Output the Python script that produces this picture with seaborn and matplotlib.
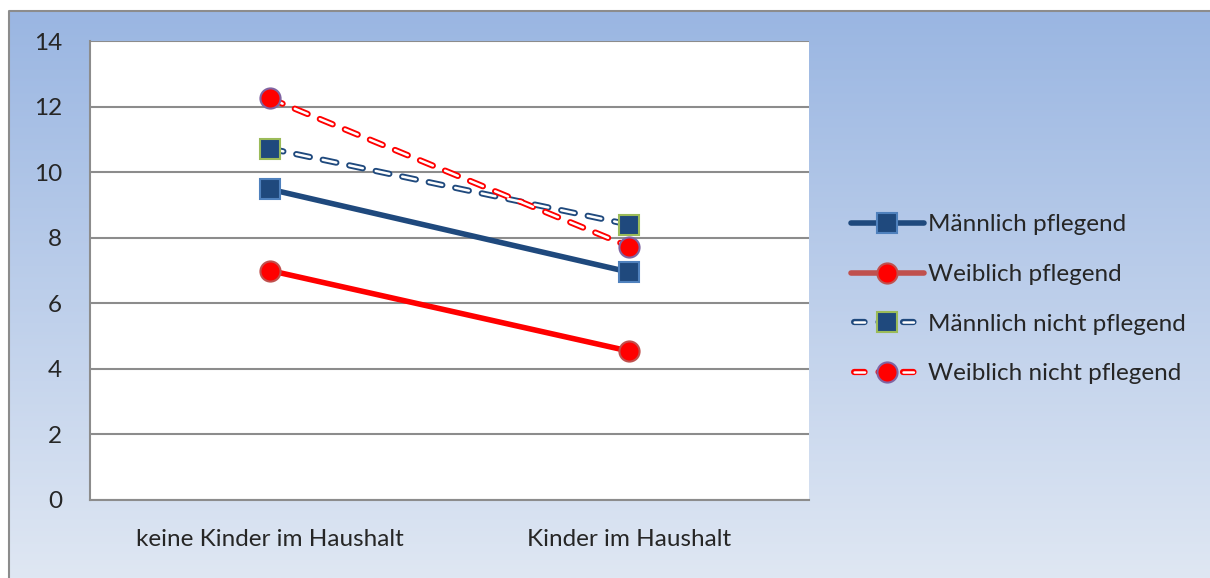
import matplotlib
matplotlib.use("Agg")
import matplotlib.pyplot as plt
from matplotlib.colors import LinearSegmentedColormap
from matplotlib.legend_handler import HandlerTuple
import numpy as np
import seaborn as sns

# --------------------------------------------------
# Data
# --------------------------------------------------
categories = ["keine Kinder im Haushalt", "Kinder im Haushalt"]
maennlich_pflegend = [9.48, 6.95]
weiblich_pflegend = [7.0, 4.54]
maennlich_nicht = [10.72, 8.4]
weiblich_nicht = [12.25, 7.73]
series_names = ["Männlich pflegend", "Weiblich pflegend",
                "Männlich nicht pflegend", "Weiblich nicht pflegend"]
y_ticks = [0, 2, 4, 6, 8, 10, 12, 14]

# --------------------------------------------------
# Style
# --------------------------------------------------
sns.set_style("white")
plt.rcParams["font.family"] = ["Lato", "DejaVu Sans"]
plt.rcParams["lines.scale_dashes"] = False

fig = plt.figure(figsize=(12.1, 5.78), dpi=100)

# gradient background with grey frame
bg = fig.add_axes([0, 0, 1, 1], zorder=-10)
cmap = LinearSegmentedColormap.from_list("bg", ["#dfe7f3", "#9ab6e2"])
grad = np.linspace(0, 1, 256).reshape(-1, 1)
bg.imshow(grad, cmap=cmap, aspect="auto", origin="lower",
          extent=[9 / 1210, 1.0, 0.0, 1 - 11 / 578])
bg.plot([9 / 1210, 9 / 1210, 1.0], [0.0, 1 - 11 / 578, 1 - 11 / 578],
        color="#8c8c8c", lw=1.5)
bg.set_xlim(0, 1)
bg.set_ylim(0, 1)
bg.axis("off")

ax = fig.add_axes([90 / 1210, 1 - 500 / 578, 719 / 1210, 459 / 578])
ax.set_facecolor("white")

x = [0, 1]
blue = "#1f497d"
red = "#ff0000"
msize = 14.5
dash = (10, 9.5)

# solid series
sns.lineplot(x=x, y=maennlich_pflegend, ax=ax, color=blue, lw=4,
             marker="s", markersize=msize, markerfacecolor=blue,
             markeredgecolor="#4f81bd", markeredgewidth=1.5, zorder=4)
sns.lineplot(x=x, y=weiblich_pflegend, ax=ax, color=red, lw=4,
             marker="o", markersize=msize, markerfacecolor=red,
             markeredgecolor="#c0504d", markeredgewidth=1.5, zorder=4)

# hollow dashed series: coloured outline dash + white core dash
sns.lineplot(x=x, y=maennlich_nicht, ax=ax, color=blue, lw=4.5, zorder=5)
sns.lineplot(x=x, y=weiblich_nicht, ax=ax, color=red, lw=4.5, zorder=5)
sns.lineplot(x=x, y=maennlich_nicht, ax=ax, color="white", lw=1.8,
             marker="s", markersize=msize, markerfacecolor=blue,
             markeredgecolor="#9bbb59", markeredgewidth=1.5, zorder=6)
sns.lineplot(x=x, y=weiblich_nicht, ax=ax, color="white", lw=1.8,
             marker="o", markersize=msize, markerfacecolor=red,
             markeredgecolor="#8064a2", markeredgewidth=1.5, zorder=6)

lines = ax.get_lines()
for ln in lines[2:]:
    ln.set_dashes(dash)
    ln.set_dash_capstyle("round")

# axes
ax.set_xlim(-0.5, 1.5)
ax.set_ylim(0, 14)
ax.set_yticks(y_ticks)
ax.set_xticks(x)
ax.set_xticklabels(categories, fontsize=17.5)
ax.set_xticks([-0.5, 0.5, 1.5], minor=True)
ax.tick_params(axis="x", which="major", length=0, pad=21)
ax.tick_params(axis="x", which="minor", length=5, color="#8c8c8c",
               direction="out", width=1.2)
ax.tick_params(axis="y", length=5, color="#8c8c8c", width=1.2,
               labelsize=17.5, pad=15)
ax.yaxis.grid(True, color="#8c8c8c", lw=1.5)
ax.set_axisbelow(True)
for side in ["top", "right"]:
    ax.spines[side].set_visible(False)
for side in ["left", "bottom"]:
    ax.spines[side].set_color("#8c8c8c")
    ax.spines[side].set_linewidth(1.5)

# legend
h_mp = plt.Line2D([], [], color=blue, lw=4, marker="s", markersize=msize,
                  markerfacecolor=blue, markeredgecolor="#4f81bd",
                  markeredgewidth=1.5, solid_capstyle="round")
h_wp = plt.Line2D([], [], color="#c0504d", lw=4, marker="o",
                  markersize=msize, markerfacecolor=red,
                  markeredgecolor="#c0504d", markeredgewidth=1.5,
                  solid_capstyle="round")
handles = [h_mp, h_wp]
leg_dash = (15.35, (7.5, 10.1))
for col, mk, edge in [(blue, "s", "#9bbb59"), (red, "o", "#8064a2")]:
    outer = plt.Line2D([], [], color=col, lw=4.5, linestyle=leg_dash,
                       dash_capstyle="round")
    inner = plt.Line2D([], [], color="white", lw=1.8,
                       linestyle=leg_dash, dash_capstyle="round")
    mark = plt.Line2D([], [], linestyle="none", marker=mk, markersize=msize,
                      markerfacecolor=col, markeredgecolor=edge,
                      markeredgewidth=1.5)
    handles.append((outer, inner, mark))

ax.legend(handles, series_names, loc="center left",
          bbox_to_anchor=(1.058, 0.437), borderaxespad=0, borderpad=0,
          frameon=False, fontsize=17.5, handlelength=3.0,
          labelspacing=1.18, handletextpad=0.18,
          handler_map={tuple: HandlerTuple(ndivide=1, pad=0)})

fig.savefig("out.png", dpi=100)
